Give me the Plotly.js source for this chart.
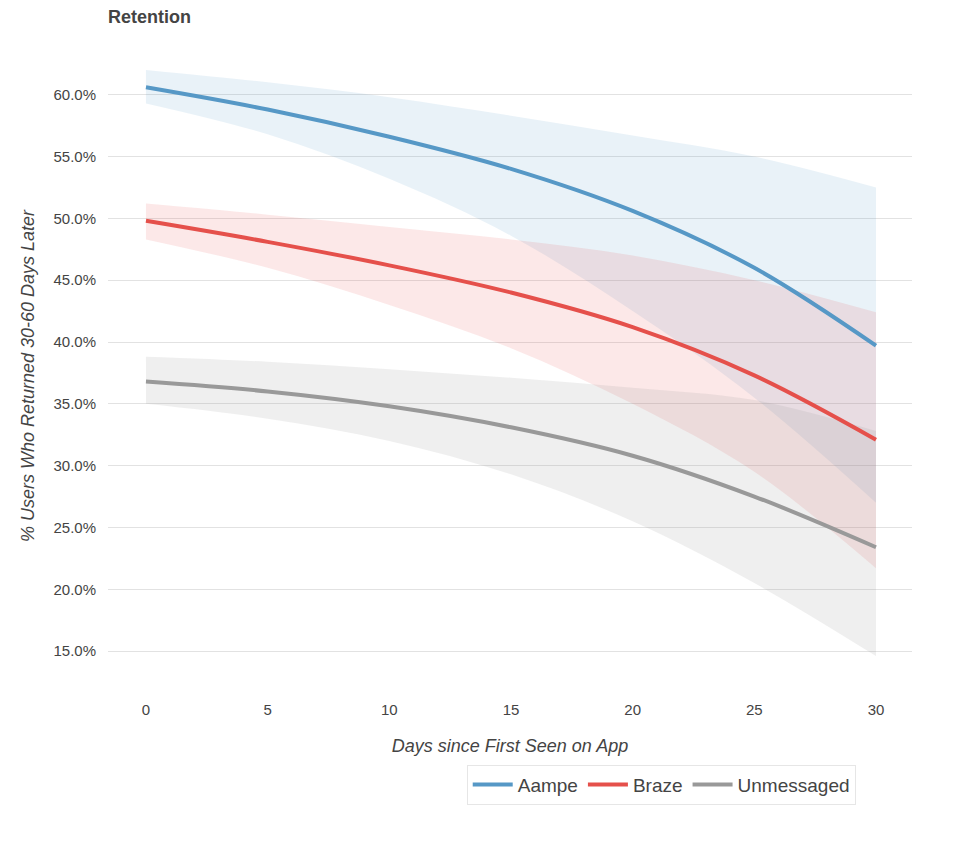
<!DOCTYPE html>
<html><head><meta charset="utf-8">
<script src="https://cdn.plot.ly/plotly-3.0.1.min.js"></script>
<style>body{margin:0;background:#fff}</style></head>
<body><div id="c" style="width:960px;height:852px"></div>
<script>
const days=[0,5,10,15,20,25,30];
const yTicks=[15,20,25,30,35,40,45,50,55,60];
const yTickLabels=['15.0%','20.0%','25.0%','30.0%','35.0%','40.0%','45.0%','50.0%','55.0%','60.0%'];
const aampe=[60.6,58.8,56.6,54.0,50.6,46.0,39.7];
const aampeHi=[62.0,61.0,59.8,58.3,56.7,55.0,52.5];
const aampeLo=[59.3,56.8,53.2,48.6,42.5,35.5,27.0];
const braze=[49.8,48.1,46.2,44.0,41.2,37.3,32.1];
const brazeHi=[51.2,50.3,49.3,48.3,47.0,45.0,42.4];
const brazeLo=[48.3,46.0,43.0,39.5,35.0,29.5,21.7];
const unm=[36.8,36.0,34.8,33.1,30.8,27.5,23.4];
const unmHi=[38.8,38.4,37.8,37.1,36.3,35.3,32.8];
const unmLo=[35.0,33.8,32.0,29.3,25.5,20.5,14.6];
const series=[
 ['Aampe',aampe,aampeHi,aampeLo,'#5698c6','rgba(86,152,198,0.13)'],
 ['Braze',braze,brazeHi,brazeLo,'#e5504b','rgba(229,80,75,0.13)'],
 ['Unmessaged',unm,unmHi,unmLo,'#999999','rgba(150,150,150,0.15)']];
const traces=[];
series.forEach(s=>{
 traces.push({x:days,y:s[2],mode:'lines',line:{width:0,shape:'spline'},showlegend:false,hoverinfo:'skip'});
 traces.push({x:days,y:s[3],mode:'lines',line:{width:0,shape:'spline'},fill:'tonexty',fillcolor:s[5],showlegend:false,hoverinfo:'skip'});
});
series.forEach(s=>{
 traces.push({x:days,y:s[1],name:s[0],mode:'lines',line:{color:s[4],width:4,shape:'spline'}});
});
Plotly.newPlot('c',traces,{
 width:960,height:852,margin:{l:108,r:48,t:70,b:170},
 paper_bgcolor:'#fff',plot_bgcolor:'#fff',
 font:{family:'Helvetica, Arial, Liberation Sans, sans-serif',color:'#444',size:15},
 title:{text:'<b>Retention</b>',x:0,xref:'paper',y:0.988,yanchor:'top',font:{size:18,color:'#444'}},
 xaxis:{range:[-1.56,31.48],tickvals:days,showgrid:false,zeroline:false,ticks:'outside',ticklen:14,tickcolor:'rgba(0,0,0,0)',
   title:{text:'<i>Days since First Seen on App</i>',font:{size:18,color:'#444'},standoff:22}},
 yaxis:{range:[12.5,62],tickvals:yTicks,ticktext:yTickLabels,
   gridcolor:'#e2e2e2',zeroline:false,ticks:'outside',ticklen:8,tickcolor:'rgba(0,0,0,0)',
   title:{text:'<i>% Users Who Returned 30-60 Days Later</i>',font:{size:18,color:'#444'},standoff:14}},
 legend:{orientation:'h',traceorder:'normal',x:0.93,xanchor:'right',y:-0.135,yanchor:'top',bordercolor:'#e6e6e6',borderwidth:1,
   font:{size:19,color:'#444'},itemwidth:40,tracegroupgap:0}
},{displayModeBar:false});
</script></body></html>
